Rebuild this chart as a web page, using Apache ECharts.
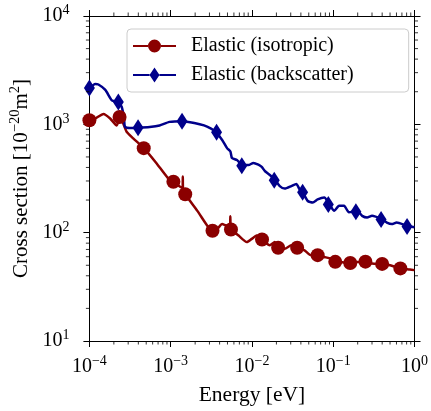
<!DOCTYPE html>
<html>
<head>
<meta charset="utf-8">
<script src="https://cdn.jsdelivr.net/npm/echarts@6/dist/echarts.min.js"></script>
<style>
html,body{margin:0;padding:0;background:#fff;}
#c{width:431px;height:411px;}
</style>
</head>
<body>
<div id="c"></div>
<script>
// ---- data ----
const isoName = 'Elastic (isotropic)';
const backName = 'Elastic (backscatter)';

const isoE = [1e-4, 1.18e-4, 1.49e-4, 1.80e-4, 2.17e-4, 2.38e-4, 2.61e-4, 2.87e-4, 3.46e-4, 4.67e-4,
  6.65e-4, 9.2e-4, 1.08e-3, 1.28e-3, 1.40e-3, 1.41e-3, 1.42e-3, 1.51e-3, 2.13e-3, 2.82e-3,
  3.24e-3, 3.73e-3, 4.30e-3, 4.94e-3, 5.38e-3, 5.42e-3, 5.46e-3, 5.55e-3, 6.85e-3, 8.65e-3,
  9.95e-3, 1.14e-2, 1.32e-2, 1.66e-2, 1.91e-2, 2.10e-2, 2.53e-2, 3.05e-2, 3.57e-2, 4.43e-2,
  5.34e-2, 6.43e-2, 7.76e-2, 9.34e-2, 0.107, 0.124, 0.16, 0.188, 0.249, 0.30,
  0.397, 0.501, 0.663, 0.877, 1.0];
const isoS = [1092, 1132, 1245, 1132, 977, 1172, 1018, 855, 743, 603,
  440, 321, 295, 268, 258, 330, 252, 226, 159, 116,
  105, 108, 120, 116, 118, 142, 110, 107, 94, 81.8,
  87.7, 94, 86.5, 76.4, 81.8, 72.6, 71.1, 76.4, 72.6, 68.7,
  61.8, 61.8, 59.6, 57.5, 53.7, 53.7, 52, 53.7, 53.7, 51.9,
  51.2, 50.1, 46.7, 45.7, 45.1];
const isoMarkE = [1e-4, 2.35e-4, 4.66e-4, 1.08e-3, 1.51e-3, 3.27e-3, 5.52e-3, 1.33e-2, 2.1e-2, 3.6e-2, 6.43e-2, 0.106, 0.162, 0.249, 0.40, 0.67];
const isoMarkS = [1092, 1170, 603, 295, 226, 104, 107, 86.5, 72.6, 72.6, 62, 53.8, 52.5, 54, 51.5, 46.8];

const backE = [1e-4, 1.18e-4, 1.29e-4, 1.57e-4, 1.89e-4, 2.27e-4, 2.50e-4, 2.67e-4, 2.74e-4, 3.15e-4,
  3.97e-4, 5.52e-4, 7.30e-4, 9.66e-4, 1.40e-3, 1.95e-3, 2.57e-3, 3.10e-3, 3.57e-3, 4.30e-3,
  4.94e-3, 5.43e-3, 5.68e-3, 6.53e-3, 7.52e-3, 9.06e-3, 1.04e-2, 1.20e-2, 1.32e-2, 1.45e-2,
  1.66e-2, 1.91e-2, 2.20e-2, 2.53e-2, 3.05e-2, 3.51e-2, 3.86e-2, 4.23e-2, 4.86e-2, 5.60e-2,
  6.43e-2, 7.76e-2, 8.93e-2, 0.103, 0.118, 0.136, 0.156, 0.197, 0.227, 0.261,
  0.300, 0.397, 0.457, 0.525, 0.604, 0.80, 1.0];
const backS = [2158, 2360, 2330, 2080, 1663, 1607, 1445, 1132, 950, 927,
  931, 946, 977, 1054, 1070, 1029, 977, 917, 855, 718,
  603, 562, 488, 468, 424, 421, 440, 424, 404, 369,
  341, 309, 269, 255, 269, 282, 251, 234, 196, 190,
  203, 211, 183, 159, 177, 177, 154, 159, 143, 138,
  143, 133, 124, 120, 124, 116, 112];
const backMarkE = [1e-4, 2.27e-4, 3.97e-4, 1.38e-3, 3.67e-3, 7.5e-3, 1.88e-2, 4.2e-2, 8.7e-2, 0.19, 0.388, 0.81];
const backMarkS = [2160, 1610, 930, 1070, 845, 415, 305, 236, 182, 156, 132, 114];

const xMin = 1e-4, xMax = 1;
const yMin = 10, yMax = 1e4;

// ---- build ----
const FONT = 'Liberation Serif';
const RED = '#8b0000', BLUE = '#00008b';
const zip = (a, b) => a.map((v, i) => [v, b[i]]);

const minorX = [], minorY = [];
for (let k = -4; k < 0; k++) for (let m = 2; m <= 9; m++) minorX.push(m * Math.pow(10, k));
for (let k = 1; k < 4; k++) for (let m = 2; m <= 9; m++) minorY.push(m * Math.pow(10, k));

function fmt(v) {
  const e = Math.round(Math.log10(v));
  return '{b|10}{s|' + (e < 0 ? '\u2212' + (-e) : '' + e) + '}';
}
const tickRich = {
  b: { fontSize: 20, fontFamily: FONT, color: '#000' },
  s: { fontSize: 14, fontFamily: FONT, color: '#000', padding: [0, 0, 11, 0] }
};

function axisCommon(pos) {
  return {
    type: 'log', logBase: 10, position: pos,
    axisLine: { show: true, onZero: false, lineStyle: { color: '#000', width: 1 } },
    axisTick: { show: true, inside: false, length: 6, lineStyle: { color: '#000', width: 1 } },
    splitLine: { show: false },
    minorTick: { show: false },
  };
}

const circleIcon = 'path://M0,0h0.01v0.01h-0.01Z M0,14.99h0.01v0.01h-0.01Z M0,6.4H15V8.6H0Z M28,6.4H43V8.6H28Z M15,7.5A6.5,6.5 0 1 1 28,7.5A6.5,6.5 0 1 1 15,7.5Z';
const diamondIcon = 'path://M0,6.4H16.5V8.6H0Z M26.5,6.4H43V8.6H26.5Z M21.5,0L26.5,7.5L21.5,15L16.5,7.5Z';

const chart = echarts.init(document.getElementById('c'), null, { renderer: 'canvas' });
chart.setOption({
  animation: false,
  backgroundColor: '#fff',
  grid: { left: 89, right: 13, top: 16, bottom: 66, containLabel: false },
  legend: {
    orient: 'vertical', left: 127, top: 29,
    padding: [6, 55, 6, 6],
    itemWidth: 43, itemHeight: 15, itemGap: 7,
    backgroundColor: 'rgba(255,255,255,0.8)',
    borderColor: '#cccccc', borderWidth: 1, borderRadius: 4,
    textStyle: { fontSize: 20, fontFamily: FONT, color: '#000', padding: [0, 0, 0, 10], lineHeight: 22 },
    data: [{ name: isoName, icon: circleIcon }, { name: backName, icon: diamondIcon }]
  },
  xAxis: [
    Object.assign(axisCommon('bottom'), {
      min: xMin, max: xMax,
      axisLabel: { show: true, formatter: fmt, rich: tickRich, margin: 13 },
      name: 'Energy [eV]', nameLocation: 'middle', nameGap: 43,
      nameTextStyle: { fontSize: 21.5, fontFamily: FONT, color: '#000' }
    }),
    Object.assign(axisCommon('top'), { min: xMin, max: xMax, axisLabel: { show: false } })
  ],
  yAxis: [
    Object.assign(axisCommon('left'), {
      min: yMin, max: yMax,
      axisLabel: { show: true, formatter: fmt, rich: tickRich, margin: 20 },
      name: '{t|Cross section [10}{s|\u221220}{t|m}{s|2}{t|]}', nameLocation: 'middle', nameGap: 49,
      nameRotate: 90,
      nameTextStyle: { rich: {
        t: { fontSize: 21, fontFamily: FONT, color: '#000' },
        s: { fontSize: 14.5, fontFamily: FONT, color: '#000', padding: [0, 0, 11, 0] }
      } }
    }),
    Object.assign(axisCommon('right'), { min: yMin, max: yMax, axisLabel: { show: false } })
  ],
  series: [
    {
      name: isoName, type: 'line', xAxisIndex: 0, yAxisIndex: 0,
      data: zip(isoE, isoS), showSymbol: false, symbol: 'none', smooth: 0.2,
      lineStyle: { color: RED, width: 2.5 }, itemStyle: { color: RED }, z: 3
    },
    {
      name: isoName, type: 'scatter', xAxisIndex: 0, yAxisIndex: 0,
      data: zip(isoMarkE, isoMarkS), symbol: 'circle', symbolSize: 14,
      itemStyle: { color: RED, opacity: 1 }, z: 4
    },
    {
      name: backName, type: 'line', xAxisIndex: 0, yAxisIndex: 0,
      data: zip(backE, backS), showSymbol: false, symbol: 'none', smooth: 0.2,
      lineStyle: { color: BLUE, width: 2.5 }, itemStyle: { color: BLUE }, z: 3
    },
    {
      name: backName, type: 'scatter', xAxisIndex: 0, yAxisIndex: 0,
      data: zip(backMarkE, backMarkS), symbol: 'diamond', symbolSize: [11, 17],
      itemStyle: { color: BLUE, opacity: 1 }, z: 4
    },
    {
      type: 'custom', xAxisIndex: 0, yAxisIndex: 0, silent: true, clip: false, z: 5,
      data: minorX.map(v => [v, 100]),
      renderItem: function (params, api) {
        const cs = params.coordSys;
        const x = api.coord([api.value(0), 100])[0];
        const st = { stroke: '#000', lineWidth: 0.8 };
        return { type: 'group', children: [
          { type: 'line', shape: { x1: x, y1: cs.y + cs.height, x2: x, y2: cs.y + cs.height + 3.5 }, style: st },
          { type: 'line', shape: { x1: x, y1: cs.y, x2: x, y2: cs.y - 3.5 }, style: st }
        ] };
      }
    },
    {
      type: 'custom', xAxisIndex: 0, yAxisIndex: 0, silent: true, clip: false, z: 5,
      data: minorY.map(v => [0.01, v]),
      renderItem: function (params, api) {
        const cs = params.coordSys;
        const y = api.coord([0.01, api.value(1)])[1];
        const st = { stroke: '#000', lineWidth: 0.8 };
        return { type: 'group', children: [
          { type: 'line', shape: { x1: cs.x, y1: y, x2: cs.x - 3.5, y2: y }, style: st },
          { type: 'line', shape: { x1: cs.x + cs.width, y1: y, x2: cs.x + cs.width + 3.5, y2: y }, style: st }
        ] };
      }
    }
  ]
});
</script>
</body>
</html>
